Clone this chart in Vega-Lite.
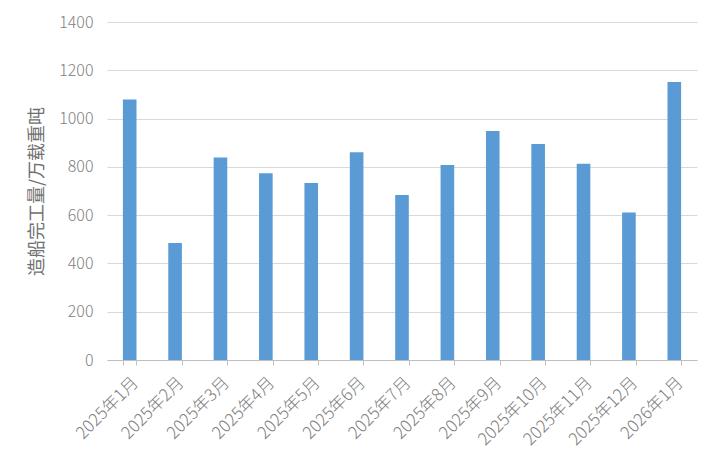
{
  "$schema": "https://vega.github.io/schema/vega-lite/v6.json",
  "width": 590,
  "height": 338,
  "autosize": "none",
  "padding": {"left": 107, "top": 22, "right": 22, "bottom": 102},
  "background": "white",
  "data": {
    "values": [
      {"month": "2025年1月", "value": 1079},
      {"month": "2025年2月", "value": 485},
      {"month": "2025年3月", "value": 839},
      {"month": "2025年4月", "value": 774},
      {"month": "2025年5月", "value": 733},
      {"month": "2025年6月", "value": 861},
      {"month": "2025年7月", "value": 683},
      {"month": "2025年8月", "value": 808},
      {"month": "2025年9月", "value": 949},
      {"month": "2025年10月", "value": 895},
      {"month": "2025年11月", "value": 813},
      {"month": "2025年12月", "value": 611},
      {"month": "2026年1月", "value": 1151}
    ]
  },
  "config": {
    "view": {"stroke": null},
    "font": "Noto Sans CJK SC"
  },
  "mark": {"type": "bar", "color": "#5B9BD5"},
  "encoding": {
    "x": {
      "field": "month",
      "type": "nominal",
      "sort": null,
      "scale": {"paddingInner": 0.7, "paddingOuter": 0.35},
      "axis": {
        "title": null,
        "labelAngle": -45,
        "labelFontSize": 17,
        "labelColor": "#808080",
        "labelFont": "Noto Sans CJK SC",
        "labelFontWeight": 300,
        "domainColor": "#BFBFBF",
        "tickColor": "#BFBFBF",
        "tickBand": "extent",
        "tickSize": 5,
        "labelPadding": 9
      }
    },
    "y": {
      "field": "value",
      "type": "quantitative",
      "scale": {"domain": [0, 1400], "nice": false},
      "axis": {
        "title": "造船完工量/万载重吨",
        "titleFontSize": 18,
        "titleFontWeight": "normal",
        "titleColor": "#707070",
        "titleFont": "Noto Sans CJK SC",
        "titlePadding": 12,
        "values": [0, 200, 400, 600, 800, 1000, 1200, 1400],
        "format": "d",
        "labelFontSize": 16,
        "labelColor": "#808080",
        "labelFontWeight": 300,
        "labelPadding": 14,
        "domain": false,
        "ticks": false,
        "gridColor": "#D9D9D9",
        "gridWidth": 1
      }
    }
  }
}
